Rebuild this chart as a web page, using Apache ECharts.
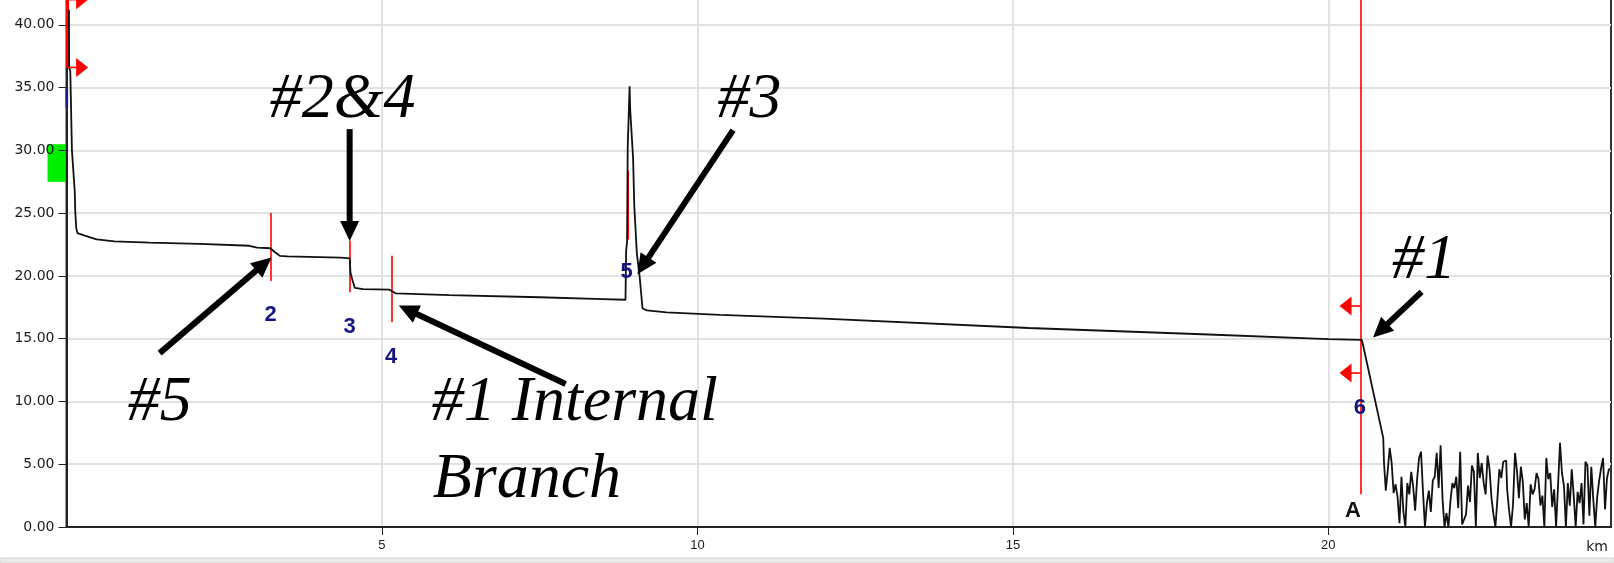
<!DOCTYPE html>
<html><head><meta charset="utf-8">
<script src="https://cdn.jsdelivr.net/npm/echarts@6/dist/echarts.min.js"></script>
<style>html,body{margin:0;padding:0;background:#fff;overflow:hidden}#c{width:1614px;height:563px;}</style>
</head><body><div id="c"></div>
<script>
// ---------- DATA ----------
const traceKm = [0.040,0.041,0.060,0.086,0.130,0.140,0.155,0.175,0.290,0.480,0.760,1.32,2.11,2.90,3.02,3.23,3.30,3.38,3.50,4.35,4.49,4.50,4.53,4.57,4.70,5.12,5.17,5.22,6.07,7.50,8.50,8.86,8.87,8.885,8.895,8.925,8.935,8.98,9.00,9.04,9.085,9.13,9.20,9.51,10.36,12.0,15.25,18.0,20.0,20.53,20.55,20.87];
const traceDb = [41.2,36.6,36.3,30.0,26.8,25.0,23.8,23.4,23.2,22.9,22.75,22.65,22.55,22.4,22.25,22.2,21.9,21.6,21.55,21.45,21.4,20.3,19.7,19.05,18.95,18.9,18.75,18.6,18.47,18.3,18.15,18.1,22.0,22.7,30.2,35.1,33.2,29.4,25.5,21.8,19.9,17.4,17.25,17.1,16.9,16.6,15.85,15.35,14.97,14.9,14.5,7.1];
const noiseStartKm = 20.895;
const noiseEndKm = 24.463;
const noiseDb = [5.1,2.9,4.5,6.3,5.1,2.7,3.4,2.4,0.3,4.0,1.2,0.0,3.5,2.6,4.4,3.2,1.3,3.8,5.5,6.0,2.8,0.0,1.9,2.9,1.2,3.7,4.0,5.9,3.1,6.5,2.2,0.0,1.1,0.0,2.0,3.5,3.1,4.0,
 1.5,6.0,0.2,0.6,1.0,3.3,2.0,4.9,4.4,0.0,5.9,3.9,5.1,3.5,2.6,5.7,4.6,2.3,1.0,0.0,2.2,4.6,3.9,5.2,5.3,3.0,1.3,0.0,1.8,5.9,4.5,2.3,4.8,3.6,0.6,1.9,0.0,3.4,2.6,
 3.0,4.3,3.8,1.7,2.5,0.0,5.5,3.8,4.3,1.6,3.0,0.0,3.3,6.7,4.3,3.3,0.0,3.5,1.7,4.6,2.5,0.0,2.8,1.9,3.5,0.2,5.2,4.9,0.9,4.8,2.2,0.0,2.4,3.7,4.7,5.5,1.4,3.9,4.6];
const xTickLabels = [5,10,15,20];
const yTickValues = [0,5,10,15,20,25,30,35,40];
// event marker lines: km, top dB, bottom dB
const markerKm  = [3.23, 4.49, 5.15, 8.895, 20.51, 0.01];
const markerTop = [25.0, 22.8, 21.6, 28.4, 45.0, 45.0];
const markerBot = [19.6, 18.7, 16.3, 22.9, 2.6, 36.6];
// event numbers
const eventLabels = ['2','3','4','5','6'];
const eventLabelKm = [3.236, 4.488, 5.147, 8.879, 20.50];
const eventLabelDb = [16.88, 15.92, 13.54, 20.28, 9.47];

// ---------- ANNOTATIONS (data coordinates) ----------
const notes = [
  {text:'#2&4', km:3.22, db:34.0},
  {text:'#3', km:10.32, db:34.0},
  {text:'#5', km:0.969, db:9.87},
  {text:'#1 Internal', km:5.788, db:9.87},
  {text:'Branch', km:5.804, db:3.69},
  {text:'#1', km:21.01, db:21.2}
];
const arrows = [
  {from:[1.476,13.85], to:[3.236,21.42]},
  {from:[4.488,31.69], to:[4.488,22.85]},
  {from:[10.565,31.61], to:[9.058,20.2]},
  {from:[7.912,11.39], to:[5.281,17.6]},
  {from:[21.478,18.73], to:[20.72,15.15]}
];
const redFlags = [
  {km:0.01, db:42.0, dir:1},
  {km:0.01, db:36.6, dir:1},
  {km:20.51, db:17.6, dir:-1},
  {km:20.51, db:12.26, dir:-1}
];

// ---------- BUILD ----------
const traceData = traceKm.map((k,i)=>[k, traceDb[i]]);
const noiseStep = (noiseEndKm - noiseStartKm)/(noiseDb.length-1);
const noiseData = [[traceKm[traceKm.length-1], traceDb[traceDb.length-1]]];
noiseDb.forEach((v,i)=>noiseData.push([noiseStartKm + i*noiseStep, v]));

const markLines = markerKm.map((k,i)=>[
  {coord:[k, markerTop[i]], lineStyle:{color:'#ff0000', width: i===5?3:(i===3?2:1.6), type:'solid'}},
  {coord:[k, markerBot[i]]}
]);

const chart = echarts.init(document.getElementById('c'), null, {renderer:'canvas'});
chart.setOption({
  animation:false,
  backgroundColor:'#ffffff',
  grid:{left:66.5, right:3, top:-38, bottom:36, outerBoundsMode:'none', containLabel:false, show:true, borderColor:'#333', borderWidth:2, backgroundColor:'transparent'},
  xAxis:{type:'value', min:0, max:24.48, interval:5,
    axisLine:{show:true, onZero:false, lineStyle:{color:'#222', width:2}},
    axisTick:{show:true, length:8, customValues:xTickLabels, lineStyle:{color:'#222', width:1}},
    axisLabel:{customValues:xTickLabels, margin:12, fontFamily:'Liberation Sans', fontSize:13, color:'#1a1a1a'},
    splitLine:{show:true, lineStyle:{color:'#e2e2e2', width:2}}
  },
  yAxis:{type:'value', min:0, max:45, interval:5,
    axisLine:{show:true, lineStyle:{color:'#222', width:2}},
    axisTick:{show:true, length:8, customValues:yTickValues, lineStyle:{color:'#222', width:1}},
    axisLabel:{customValues:yTickValues, margin:12, fontFamily:'DejaVu Sans', fontSize:14, color:'#1a1a1a', formatter:v=>Number(v).toFixed(2)},
    splitLine:{show:true, lineStyle:{color:'#e2e2e2', width:2}}
  },
  series:[{
    type:'line', data:traceData, showSymbol:false, symbol:'none', smooth:false,
    lineStyle:{color:'#111', width:1.8}, z:5
  },{
    type:'line', data:noiseData, showSymbol:false, symbol:'none', step:'middle',
    lineStyle:{color:'#111', width:1.8}, z:5
  },{
    type:'line', data:[], z:10,
    markLine:{silent:true, symbol:['none','none'], label:{show:false}, data:markLines, animation:false}
  }]
});

const P = (k,d)=>chart.convertToPixel({gridIndex:0},[k,d]);
const els = [];
function arrowEls(t,h,w,hl,hw,color,z){
  const dx=h[0]-t[0], dy=h[1]-t[1], L=Math.hypot(dx,dy), ux=dx/L, uy=dy/L;
  const bx=h[0]-ux*hl, by=h[1]-uy*hl, nx=-uy, ny=ux;
  return [
    {type:'line', z:z, shape:{x1:t[0],y1:t[1],x2:bx+ux*2,y2:by+uy*2}, style:{stroke:color,lineWidth:w}},
    {type:'polygon', z:z, shape:{points:[[h[0]+ux*1,h[1]+uy*1],[bx+nx*hw/2,by+ny*hw/2],[bx-nx*hw/2,by-ny*hw/2]]}, style:{fill:color}}
  ];
}
arrows.forEach(a=>{ els.push(...arrowEls(P(...a.from), P(...a.to), 6, 19, 19, '#000', 100)); });
redFlags.forEach(f=>{
  const t = P(f.km, f.db); const h=[t[0]+f.dir*20, t[1]];
  els.push(...arrowEls(t, h, 1.6, 11, 19, '#ff0000', 90));
});
notes.forEach(n=>{
  const p=P(n.km,n.db);
  els.push({type:'text', z:110, x:p[0], y:p[1], style:{text:n.text, font:'italic 64px "Liberation Serif"', fill:'#000', align:'left', verticalAlign:'middle'}});
});
eventLabels.forEach((s,i)=>{
  const p=P(eventLabelKm[i], eventLabelDb[i]);
  els.push({type:'text', z:95, x:p[0], y:p[1], style:{text:s, font:'bold 22px "Liberation Sans"', fill:'#141482', align:'center', verticalAlign:'middle'}});
});
{ const p=P(20.39,1.27); els.push({type:'text', z:95, x:p[0], y:p[1], style:{text:'A', font:'bold 22px "Liberation Sans"', fill:'#111', align:'center', verticalAlign:'middle'}}); }
// green grip (behind axis labels) and navy marker at start
{ const a=P(0,30.49), b=P(0,27.49); els.push({type:'rect', z:-10, shape:{x:a[0]-19, y:a[1], width:18, height:b[1]-a[1]}, style:{fill:'#00ee00'}}); }
{ const a=P(0,34.9), b=P(0,33.4); els.push({type:'rect', z:80, shape:{x:a[0]-1, y:a[1], width:2.6, height:b[1]-a[1]}, style:{fill:'#1a1a8a'}}); }
// km unit
{ const p=P(24.48,0); els.push({type:'text', z:95, x:p[0]-3, y:p[1]+20, style:{text:'km', font:'14px "DejaVu Sans"', fill:'#1a1a1a', align:'right', verticalAlign:'middle'}}); }
// bottom window band
els.push({type:'rect', z:120, shape:{x:0,y:558,width:1614,height:5}, style:{fill:'#ebebe8', stroke:'#d4d4d0', lineWidth:1}});
chart.setOption({graphic:els});
</script></body></html>
